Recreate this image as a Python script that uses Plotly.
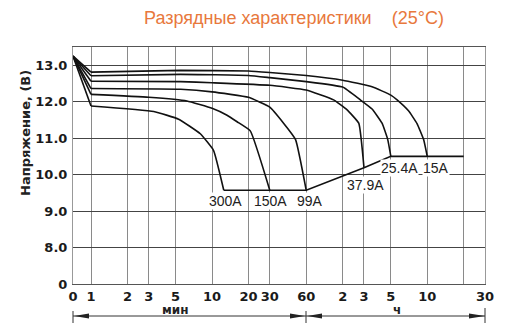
import math
import plotly.graph_objects as go

# ---------------- data ----------------
T0 = 0.71  # time position used for the "0" tick (minutes, log axis)

t_300 = [T0, 1, 3.3, 5.3, 8.0, 10.3, 12.5]
v_300 = [13.25, 11.88, 11.73, 11.52, 11.12, 10.66, 9.57]

t_150 = [T0, 1, 3, 6.2, 10, 13.3, 16.1, 20.7, 30]
v_150 = [13.25, 12.2, 12.12, 12.02, 11.82, 11.63, 11.45, 11.2, 9.57]

t_99 = [T0, 1, 5.5, 10, 20, 30, 39, 49, 60]
v_99 = [13.25, 12.36, 12.34, 12.27, 12.12, 11.85, 11.41, 10.96, 9.57]

t_379 = [T0, 1, 5.5, 10, 30, 60, 101, 130, 163, 180]
v_379 = [13.25, 12.56, 12.55, 12.52, 12.45, 12.32, 12.05, 11.78, 11.41, 10.19]

t_254 = [T0, 1, 5.5, 20, 30, 60, 120, 168, 210, 254, 283, 300]
v_254 = [13.25, 12.71, 12.75, 12.72, 12.66, 12.55, 12.4, 12.05, 11.8, 11.41, 10.96, 10.5]

t_15 = [T0, 1, 5.5, 20, 30, 60, 120, 210, 300, 338, 420, 494, 560, 600]
v_15 = [13.25, 12.81, 12.86, 12.84, 12.8, 12.72, 12.59, 12.41, 12.18, 12.05, 11.75, 11.4, 10.96, 10.5]

cut_t = [12.5, 60, 180, 300, 1200]
cut_v = [9.57, 9.57, 10.19, 10.5, 10.5]

curve_names = ["300A", "150A", "99A", "37.9A", "25.4A", "15A"]

x_tickvals = [T0, 1, 2, 3, 5, 10, 20, 30, 60, 120, 180, 300, 600, 1200, 1800]
x_ticktext = ["0", "1", "2", "3", "5", "10", "20", "30", "60", "2", "3", "5", "10", "", "30"]
y_tickvals = [7, 8, 9, 10, 11, 12, 13]
y_ticktext = ["0", "8.0", "9.0", "10.0", "11.0", "12.0", "13.0"]

title_text = "Разрядные характеристики    (25°C)"
y_title = "Напряжение, (В)"
unit_min = "мин"
unit_h = "ч"

# ---------------- figure ----------------
W, H = 507, 334
ML, MR, MT, MB = 73, 22, 47, 50
PW, PH = W - ML - MR, H - MT - MB


def pp(px, py):
    """pixel -> paper coordinates"""
    return (px - ML) / PW, (H - MB - py) / PH


fig = go.Figure()
series = [(t_300, v_300), (t_150, v_150), (t_99, v_99),
          (t_379, v_379), (t_254, v_254), (t_15, v_15)]
line_style = dict(color="#111111", width=1.6)
for (t, v), name in zip(series, curve_names):
    # straight initial drop from the start point
    fig.add_trace(go.Scatter(x=t[:2], y=v[:2], mode="lines", name=name,
                             line=line_style, hoverinfo="skip"))
    # smooth discharge curve
    fig.add_trace(go.Scatter(x=t[1:], y=v[1:], mode="lines", name=name,
                             line=dict(**line_style, shape="spline", smoothing=0.35),
                             hoverinfo="skip"))
fig.add_trace(go.Scatter(x=cut_t, y=cut_v, mode="lines", name="cutoff",
                         line=line_style, hoverinfo="skip"))

# curve labels at end points
label_offsets = {"300A": (2, -11), "150A": (1, -11), "99A": (4, -11),
                 "37.9A": (2, -17), "25.4A": (9, -12), "15A": (9, -12)}
for (t, v), name in zip(series, curve_names):
    dx, dy = label_offsets[name]
    fig.add_annotation(x=math.log10(t[-1]), y=v[-1], xref="x", yref="y", text=name,
                       showarrow=False, xshift=dx, yshift=dy, bgcolor="white", borderpad=0,
                       font=dict(family="Liberation Sans", size=14, color="#222222"))

# title
tx, ty = pp(294, 18)
fig.add_annotation(x=tx, y=ty, xref="paper", yref="paper", text=title_text, showarrow=False,
                   xanchor="center", yanchor="middle",
                   font=dict(family="Liberation Sans", size=18, color="#e8783c"))
# y title
yx, yy = pp(25, 133)
fig.add_annotation(x=yx, y=yy, xref="paper", yref="paper", text=y_title, showarrow=False,
                   textangle=-90, xanchor="center", yanchor="middle",
                   font=dict(family="DejaVu Sans", size=13, color="#222222", weight="bold"))
# unit labels
for txt, px in [(unit_min, 175), (unit_h, 397)]:
    ux, uy = pp(px, 310)
    fig.add_annotation(x=ux, y=uy, xref="paper", yref="paper", text=txt, showarrow=False,
                       xanchor="center", yanchor="middle",
                       font=dict(family="DejaVu Sans", size=12, color="#222222", weight="bold"))

shapes = []
# arrow line
x0, y0 = pp(73, 316)
x1, _ = pp(485, 316)
shapes.append(dict(type="line", xref="paper", yref="paper", x0=x0, y0=y0, x1=x1, y1=y0,
                   line=dict(color="#333333", width=1)))
# vertical end ticks
for px, ytop in [(73, 311), (306, 311), (485, 308)]:
    a, b = pp(px, ytop)
    _, c = pp(px, 323)
    shapes.append(dict(type="line", xref="paper", yref="paper", x0=a, y0=b, x1=a, y1=c,
                       line=dict(color="#333333", width=1)))


def tri(tip_px, base_px, yc=316, half=2.6):
    a = pp(tip_px, yc)
    b = pp(base_px, yc - half)
    c = pp(base_px, yc + half)
    return dict(type="path", xref="paper", yref="paper",
                path=f"M {a[0]},{a[1]} L {b[0]},{b[1]} L {c[0]},{c[1]} Z",
                fillcolor="#222222", line=dict(width=0))


shapes += [tri(74, 89), tri(305, 290), tri(307, 322), tri(485, 469)]
# white patch behind the 37.9A label (gridline gap)
p1 = pp(320, 178)
p2 = pp(386, 192)
shapes.append(dict(type="rect", xref="paper", yref="paper", x0=p1[0], y0=p1[1], x1=p2[0], y1=p2[1],
                   fillcolor="white", line=dict(width=0), layer="between"))

fig.update_layout(
    width=W, height=H, margin=dict(l=ML, r=MR, t=MT, b=MB),
    paper_bgcolor="white", plot_bgcolor="white", showlegend=False,
    shapes=shapes,
    xaxis=dict(type="log", range=[math.log10(T0), math.log10(1800)],
               tickvals=x_tickvals, ticktext=x_ticktext, ticks="",
               showgrid=True, gridcolor="#8a8a8a", gridwidth=1.3,
               showline=True, mirror=True, linecolor="#555555", linewidth=1,
               zeroline=False, ticklabelstandoff=0,
               tickfont=dict(family="DejaVu Sans", size=13, color="#1a1a1a", weight="bold")),
    yaxis=dict(range=[7, 13.5], tickvals=y_tickvals, ticktext=y_ticktext, ticks="",
               showgrid=True, gridcolor="#444444", gridwidth=1,
               showline=True, mirror=True, linecolor="#999999", linewidth=1,
               zeroline=False, ticklabelstandoff=2,
               tickfont=dict(family="DejaVu Sans", size=13, color="#1a1a1a", weight="bold")),
)

fig.write_html("out.html")
